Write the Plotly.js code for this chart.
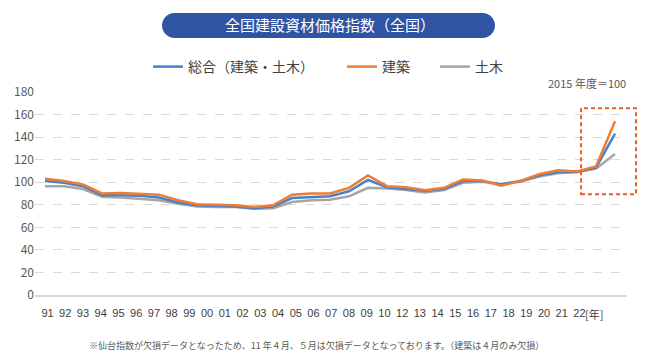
<!DOCTYPE html>
<html>
<head>
<meta charset="utf-8">
<script src="https://cdn.plot.ly/plotly-3.0.1.min.js"></script>
<style>html,body{margin:0;padding:0;background:#fff;}#chart{width:660px;height:360px;}</style>
</head>
<body>
<div id="chart"></div>
<script>
const years = ['91','92','93','94','95','96','97','98','99','00','01','02','03','04','05','06','07','08','09','10','12','13','14','15','16','17','18','19','20','21','22'];
const sogo = [101,99.5,96.5,88.5,88.5,88,86.5,82,79.5,79,78.5,77,78.5,86,87,87.5,92,102,95.5,94,92.5,94,101,101,98,101,106,109,109,113,143];
const kenchiku = [103,101,98,90,90.5,89.5,89,84,80.5,80,79.5,78,79.5,89,90,90,95,106,96.5,95.5,93,95,102.5,101.5,97,101,107,110.5,109.5,114,154];
const doboku = [96.5,96.5,94,87,86.5,85.5,84,81,78.5,78,78,76.5,77,82.5,84,84.5,87.5,95,94.5,93,91,93,99.5,100.5,98.5,100.5,105,108,109,112,125];
const seriesNames = ['総合（建築・土木）','建築','土木'];
const yTicks = [0,20,40,60,80,100,120,140,160,180];
const titleText = '全国建設資材価格指数（全国）';
const baseNote = '2015 年度＝100';
const footNote = '※仙台指数が欠損データとなったため、11 年４月、５月は欠損データとなっております。（建築は４月のみ欠損）';
const yearUnit = '[年]';

const font = 'Noto Sans CJK JP, Noto Sans, sans-serif';
const traces = [
  {x: years, y: doboku, name: seriesNames[2], type: 'scatter', mode: 'lines', line: {color: '#A5A5A5', width: 2.5}, legend: 'legend3'},
  {x: years, y: sogo, name: seriesNames[0], type: 'scatter', mode: 'lines', line: {color: '#4A7FCB', width: 2.5}, legend: 'legend'},
  {x: years, y: kenchiku, name: seriesNames[1], type: 'scatter', mode: 'lines', line: {color: '#ED7D31', width: 2.5}, legend: 'legend2'}
];

const k = 6.9;
const pill = `M139.5,79 L447.5,79 C${447.5+k},79 460,${66.5+k} 460,66.5 C460,${66.5-k} ${447.5+k},54 447.5,54 L139.5,54 C${139.5-k},54 127,${66.5-k} 127,66.5 C127,${66.5+k} ${139.5-k},79 139.5,79 Z`;

const px = (p) => (p - 35) / 592;
const py = (p) => (295 - p) / 203;
const legFont = {family: font, size: 14, color: '#404040'};
const legBase = {orientation: 'h', xanchor: 'left', yanchor: 'middle', y: py(67), font: legFont, bgcolor: 'rgba(0,0,0,0)'};

const layout = {
  width: 660, height: 360,
  margin: {l: 35, r: 33, t: 92, b: 65},
  paper_bgcolor: '#fff', plot_bgcolor: '#fff',
  font: {family: font, color: '#595959', size: 12},
  title: {text: titleText, font: {family: font, size: 15, color: '#ffffff'}, x: 0.5, xref: 'container', xanchor: 'center', y: 1 - 25.5/360, yref: 'container', yanchor: 'middle'},
  showlegend: true,
  legend: Object.assign({}, legBase, {x: px(148)}),
  legend2: Object.assign({}, legBase, {x: px(342)}),
  legend3: Object.assign({}, legBase, {x: px(435)}),
  xaxis: {type: 'category', range: [-0.526, 30.63], showticklabels: false, showgrid: false, zeroline: false, showline: true, linecolor: '#D9D9D9', linewidth: 2, ticks: '', fixedrange: true},
  xaxis2: {overlaying: 'x', anchor: 'y', side: 'bottom', type: 'linear', range: [-0.705, 32.68], autorange: false, tickmode: 'array', tickvals: years.map((_, i) => i), ticktext: years, showgrid: false, zeroline: false, showline: false, ticks: '', ticklabelstandoff: 10, tickfont: {family: 'Liberation Sans Narrow, Arial Narrow, sans-serif', size: 11, color: '#404040'}},
  yaxis: {range: [0, 180], tickvals: yTicks, showgrid: true, gridcolor: '#D9D9D9', griddash: 'dash', gridwidth: 1, zeroline: false, showline: false, ticks: '', tickfont: {family: font, size: 12, color: '#595959'}},
  shapes: [
    {type: 'path', xref: 'paper', yref: 'paper', xsizemode: 'pixel', ysizemode: 'pixel', xanchor: 0, yanchor: 1, path: pill, fillcolor: '#2E54A3', line: {width: 0}, layer: 'below'},
    {type: 'rect', xref: 'paper', yref: 'paper', x0: px(581), x1: px(636), y0: py(194.3), y1: py(108.3), line: {color: '#E5602B', width: 2, dash: '4px,3px'}, fillcolor: 'rgba(0,0,0,0)'}
  ],
  annotations: [
    {text: baseNote, xref: 'paper', yref: 'paper', x: px(628), xanchor: 'right', y: py(83), yanchor: 'middle', showarrow: false, font: {family: font, size: 11, color: '#595959'}},
    {text: yearUnit, xref: 'paper', yref: 'paper', x: px(583), xanchor: 'left', y: py(314), yanchor: 'middle', showarrow: false, font: {family: font, size: 11, color: '#404040'}},
    {text: footNote, xref: 'paper', yref: 'paper', x: px(316), xanchor: 'center', y: py(345), yanchor: 'middle', showarrow: false, font: {family: font, size: 9, color: '#595959'}}
  ]
};
traces.push({x: [0], y: [null], xaxis: 'x2', yaxis: 'y', showlegend: false, hoverinfo: 'skip', mode: 'lines'});
Plotly.newPlot('chart', traces, layout, {displayModeBar: false, staticPlot: true});
</script>
</body>
</html>
